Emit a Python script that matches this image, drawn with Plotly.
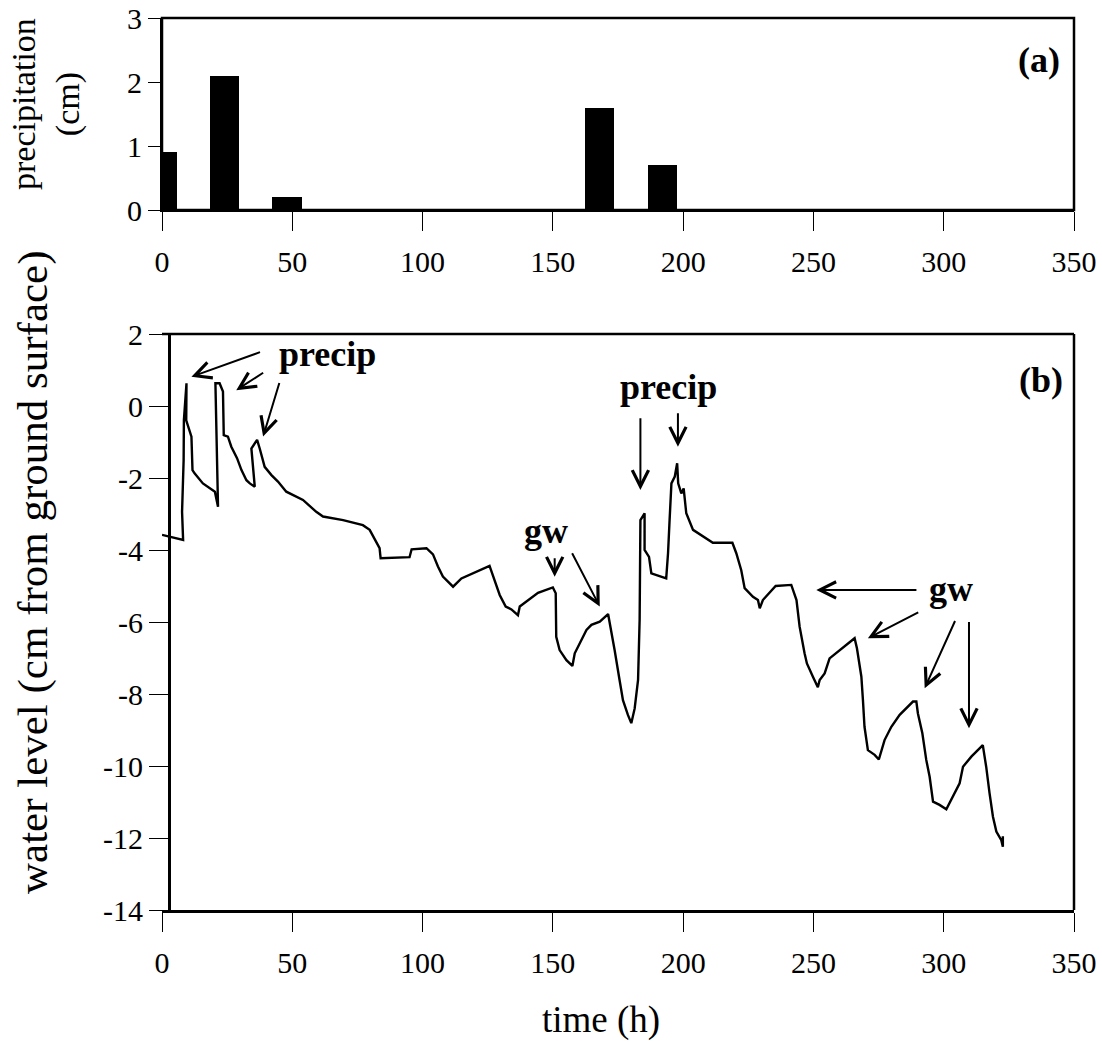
import plotly.graph_objects as go

# ---------------- data ----------------
precip_time = [0, 24, 48, 168, 192]          # h (daily bars)
precip_cm = [0.9, 2.1, 0.2, 1.6, 0.7]

time_h = [0, 8.1, 7.7, 8.3, 8.4, 9.4, 9.3, 11.3, 11.7, 12.5, 15.7, 20.3, 21.5, 20.5, 22.1, 23.4, 23.7, 25.3,
          26.6, 28.8, 30.5, 32.4, 33.7, 35.6, 34.3, 36.5, 37.5, 39.4, 42.0, 44.5, 47.7, 54.1, 59.2, 61.8,
          69.5, 77.1, 79.7, 83.5, 83.9, 95.0, 95.8, 101.5, 104.0, 105.9, 107.8, 111.7, 114.9, 119.3, 125.7,
          129.6, 131.9, 134.1, 136.6, 137.3, 144.3, 150.0, 151.1, 151.3, 152.6, 155.2, 157.5, 158.4, 160.3,
          162.9, 164.8, 168.0, 171.2, 172.1, 173.7, 175.6, 176.9, 178.8, 180.1, 181.4, 182.7, 183.3, 183.6,
          185.2, 185.2, 186.9, 187.8, 193.5, 194.2, 194.8, 195.5, 196.8, 197.7, 198.1, 199.3, 200.2, 201.2,
          203.8, 207.6, 211.4, 218.9, 220.4, 222.3, 223.6, 226.8, 228.7, 229.4, 230.6, 235.5, 241.5, 243.5,
          244.7, 246.6, 247.5, 249.8, 251.7, 252.4, 254.3, 256.2, 260.1, 265.8, 266.7, 268.4, 269.0, 269.6,
          270.9, 273.5, 275.1, 277.3, 279.9, 283.1, 288.2, 289.5, 290.1, 291.8, 293.3, 294.6, 295.9, 298.4,
          301.0, 303.6, 306.1, 307.4, 310.6, 315.0, 316.3, 317.6, 318.9, 320.2, 322.1, 322.7, 322.7]
level_cm = [-3.58, -3.72, -2.94, -1.5, -0.4, 0.63, -0.4, -0.85, -1.78, -1.87, -2.15, -2.38, -2.8, 0.63, 0.63,
            0.40, -0.81, -0.85, -1.13, -1.45, -1.78, -2.06, -2.15, -2.24, -1.18, -0.94, -1.18, -1.69, -1.92,
            -2.10, -2.38, -2.61, -2.94, -3.07, -3.17, -3.31, -3.44, -3.95, -4.23, -4.20, -3.98, -3.95, -4.12,
            -4.46, -4.74, -5.02, -4.79, -4.65, -4.44, -5.25, -5.57, -5.65, -5.81, -5.57, -5.19, -5.04, -5.2,
            -6.41, -6.78, -7.06, -7.22, -6.87, -6.59, -6.22, -6.08, -5.99, -5.78, -6.13, -6.78, -7.61, -8.17,
            -8.58, -8.81, -8.40, -7.61, -5.94, -3.17, -2.98, -4.0, -4.19, -4.65, -4.79, -4.09, -3.17, -2.15,
            -1.96, -1.59, -2.15, -2.43, -2.29, -2.98, -3.44, -3.63, -3.80, -3.80, -4.09, -4.56, -5.06, -5.30,
            -5.39, -5.62, -5.39, -5.0, -4.97, -5.39, -6.13, -6.87, -7.15, -7.52, -7.81, -7.61, -7.43, -7.01,
            -6.78, -6.45, -6.73, -7.52, -8.17, -8.91, -9.56, -9.69, -9.82, -9.28, -8.91, -8.58, -8.21, -8.21,
            -8.54, -9.09, -9.83, -10.30, -10.99, -11.08, -11.20, -10.81, -10.48, -10.02, -9.74, -9.42, -10.02,
            -10.76, -11.41, -11.82, -12.06, -12.24, -11.95]

x_ticks = [0, 50, 100, 150, 200, 250, 300, 350]
x_tick_text = ["0", "50", "100", "150", "200", "250", "300", "350"]
p_ticks = [0, 1, 2, 3]
p_tick_text = ["0", "1", "2", "3"]
w_ticks = [2, 0, -2, -4, -6, -8, -10, -12, -14]
w_tick_text = ["2", "0", "-2", "-4", "-6", "-8", "-10", "-12", "-14"]

# arrow annotations: (tail_t, tail_level, head_t, head_level)
arrows = [
    (38.2, 1.51, 11.3, 0.81),
    (39.4, 0.95, 28.5, 0.44),
    (45.2, 0.68, 38.8, -0.85),
    (183.6, -0.30, 183.6, -2.33),
    (198.0, -0.16, 198.0, -1.13),
    (150.7, -4.19, 150.7, -4.74),
    (157.1, -4.05, 168.0, -5.57),
    (290.1, -5.11, 251.1, -5.11),
    (290.8, -5.71, 270.9, -6.45),
    (304.6, -5.93, 292.7, -7.84),
    (309.7, -5.96, 309.7, -8.95),
]
labels = [("precip", 63.4, 1.44), ("precip", 194.5, 0.53), ("gw", 147.2, -3.47), ("gw", 302.9, -5.08)]

# ---------------- layout helpers ----------------
W, H = 1102, 1057
ML, MR, MT, MB = 162, 28, 18, 147
PW, PH = W - ML - MR, H - MT - MB


def px(xp):
    return (xp - ML) / PW


def py(yp):
    return 1 - (yp - MT) / PH


FONT = "Liberation Serif, Times New Roman, serif"

fig = go.Figure()
fig.add_trace(go.Bar(x=precip_time, y=precip_cm, width=11.2,
                     marker=dict(color="black", line=dict(width=0)),
                     xaxis="x", yaxis="y"))
fig.add_trace(go.Scatter(x=time_h, y=level_cm, mode="lines",
                         line=dict(color="black", width=2.4),
                         xaxis="x2", yaxis="y2"))

axis_common = dict(showgrid=False, zeroline=False, ticks="outside", tickcolor="black",
                   tickwidth=1, linecolor="black", showline=True, automargin=False,
                   tickfont=dict(family=FONT, size=30, color="black"))

fig.update_layout(
    template="none",
    width=W, height=H,
    margin=dict(l=ML, r=MR, t=MT, b=MB, autoexpand=False),
    paper_bgcolor="white", plot_bgcolor="white",
    showlegend=False,
    font=dict(family=FONT, size=30, color="black"),
    xaxis=dict(domain=[0, 1], anchor="y", range=[0, 350], tickvals=x_ticks, ticktext=x_tick_text,
               ticklen=19, linewidth=2, ticklabelstandoff=5, **axis_common),
    yaxis=dict(domain=[py(210), 1], anchor="x", range=[0, 3], tickvals=p_ticks, ticktext=p_tick_text,
               ticklen=12, linewidth=2, **axis_common),
    xaxis2=dict(domain=[0, 1], anchor="y2", range=[0, 350], tickvals=x_ticks, ticktext=x_tick_text,
                ticklen=19, linewidth=2.5, ticklabelstandoff=5, **axis_common),
    yaxis2=dict(domain=[0, py(334)], anchor="free", position=px(169), range=[-14, 2],
                tickvals=w_ticks, ticktext=w_tick_text, ticklen=19, linewidth=3, **axis_common),
    bargap=0,
)

# frame of panel (a)
fig.add_shape(type="rect", xref="x domain", yref="y domain", x0=0, x1=1, y0=0, y1=1,
              line=dict(color="black", width=2.5))
# frame of panel (b): top and right edges (left edge is the offset y-axis line)
fig.add_shape(type="line", xref="x2 domain", yref="y2 domain", x0=0, x1=1, y0=1, y1=1,
              line=dict(color="black", width=2.5))
fig.add_shape(type="line", xref="x2 domain", yref="y2 domain", x0=1, x1=1, y0=0, y1=1,
              line=dict(color="black", width=2.5))

for (tx, ty, hx, hy) in arrows:
    fig.add_annotation(x=hx, y=hy, ax=tx, ay=ty, xref="x2", yref="y2", axref="x2", ayref="y2",
                       text="", showarrow=True, arrowhead=5, arrowsize=1.6, arrowwidth=2,
                       arrowcolor="black", standoff=0, startstandoff=0)

for (txt, lx, ly) in labels:
    fig.add_annotation(x=lx, y=ly, xref="x2", yref="y2", text="<b>" + txt + "</b>", showarrow=False,
                       font=dict(family=FONT, size=36, color="black"), xanchor="center", yanchor="middle")

fig.add_annotation(x=px(1039), y=py(60), xref="paper", yref="paper", text="<b>(a)</b>", showarrow=False,
                   font=dict(family=FONT, size=36, color="black"), xanchor="center", yanchor="middle")
fig.add_annotation(x=px(1041), y=py(380), xref="paper", yref="paper", text="<b>(b)</b>", showarrow=False,
                   font=dict(family=FONT, size=36, color="black"), xanchor="center", yanchor="middle")

fig.add_annotation(x=px(46), y=py(104), xref="paper", yref="paper", text="precipitation<br>(cm)",
                   showarrow=False, textangle=-90, font=dict(family=FONT, size=34, color="black"),
                   xanchor="center", yanchor="middle")
fig.add_annotation(x=px(33), y=py(572), xref="paper", yref="paper",
                   text="water level (cm from ground surface)", showarrow=False, textangle=-90,
                   font=dict(family=FONT, size=43, color="black"), xanchor="center", yanchor="middle")
fig.add_annotation(x=px(601), y=py(1020), xref="paper", yref="paper", text="time (h)", showarrow=False,
                   font=dict(family=FONT, size=37, color="black"), xanchor="center", yanchor="middle")

fig.write_html("out.html", config={"displayModeBar": False},
               post_script="document.body.style.margin='0';")
